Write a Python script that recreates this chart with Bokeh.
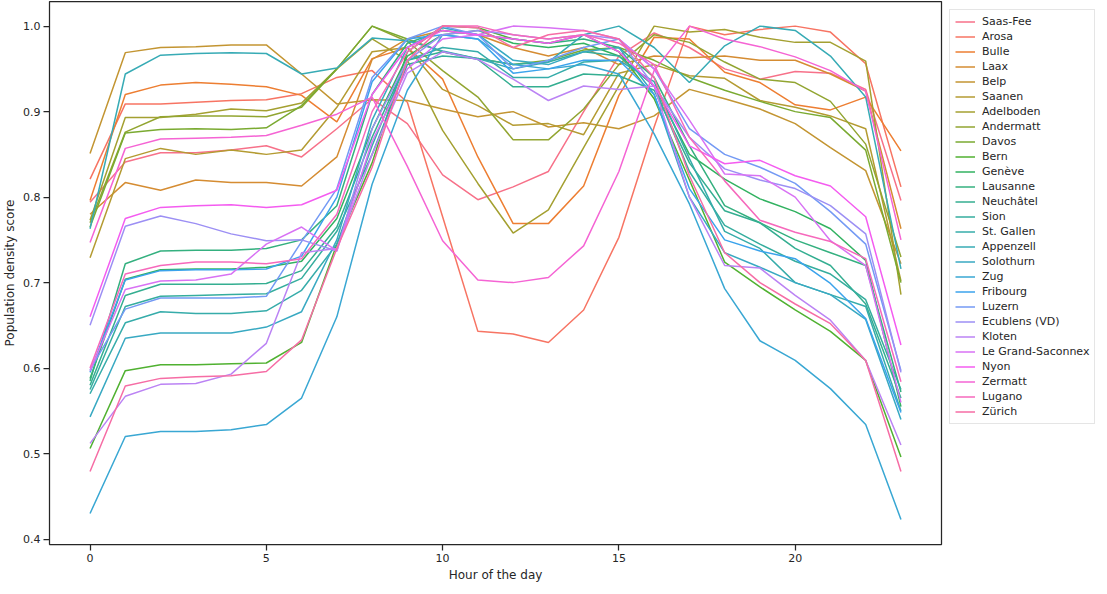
import math
from bokeh.plotting import figure
from bokeh.models import Range1d, FixedTicker, Legend, LegendItem, ColumnDataSource, CustomJSTickFormatter
from bokeh.embed import file_html
from bokeh.resources import INLINE

hours = list(range(24))

city_names = ["Saas-Fee", "Arosa", "Bulle", "Laax", "Belp", "Saanen", "Adelboden",
              "Andermatt", "Davos", "Bern", "Genève", "Lausanne", "Neuchâtel", "Sion",
              "St. Gallen", "Appenzell", "Solothurn", "Zug", "Fribourg", "Luzern",
              "Ecublens (VD)", "Kloten", "Le Grand-Saconnex", "Nyon", "Zermatt",
              "Lugano", "Zürich"]

saas_fee = [0.794, 0.841, 0.852, 0.852, 0.855, 0.860, 0.847, 0.880, 0.915, 0.886, 0.826, 0.797,
            0.812, 0.830, 0.900, 0.965, 0.992, 0.975, 0.950, 0.938, 0.947, 0.945, 0.926, 0.796]
arosa = [0.821, 0.909, 0.909, 0.911, 0.913, 0.914, 0.921, 0.940, 0.948, 0.911, 0.777, 0.643,
         0.640, 0.630, 0.668, 0.753, 0.882, 1.000, 0.990, 0.996, 1.000, 0.993, 0.956, 0.812]
bulle = [0.796, 0.920, 0.931, 0.934, 0.932, 0.929, 0.919, 0.888, 0.962, 0.975, 0.938, 0.847,
         0.769, 0.769, 0.813, 0.919, 0.987, 0.985, 0.946, 0.934, 0.908, 0.902, 0.917, 0.854]
laax = [0.780, 0.817, 0.808, 0.820, 0.817, 0.817, 0.813, 0.847, 0.961, 0.985, 0.995, 0.990,
        0.975, 0.965, 0.975, 0.955, 0.965, 0.963, 0.965, 0.960, 0.960, 0.944, 0.924, 0.763]
belp = [0.851, 0.969, 0.975, 0.976, 0.978, 0.978, 0.944, 0.909, 0.914, 0.913, 0.903, 0.894,
        0.900, 0.882, 0.887, 0.880, 0.895, 0.926, 0.915, 0.903, 0.886, 0.858, 0.831, 0.722]
saanen = [0.729, 0.845, 0.857, 0.850, 0.855, 0.850, 0.855, 0.905, 0.970, 0.975, 0.926, 0.907,
          0.884, 0.886, 0.873, 0.945, 0.955, 0.942, 0.939, 0.913, 0.905, 0.895, 0.880, 0.702]
adelboden = [0.773, 0.893, 0.893, 0.897, 0.903, 0.901, 0.910, 0.950, 0.985, 0.960, 0.878, 0.816,
             0.758, 0.785, 0.858, 0.930, 1.000, 0.993, 0.996, 0.987, 0.981, 0.981, 0.959, 0.686]
andermatt = [0.770, 0.876, 0.894, 0.895, 0.895, 0.894, 0.905, 0.950, 1.000, 0.982, 0.948, 0.917,
             0.867, 0.867, 0.903, 0.955, 0.990, 0.981, 0.958, 0.938, 0.934, 0.912, 0.862, 0.730]
davos = [0.765, 0.875, 0.879, 0.880, 0.879, 0.881, 0.907, 0.950, 1.000, 0.985, 0.970, 0.962,
         0.955, 0.960, 0.972, 0.975, 0.960, 0.940, 0.925, 0.912, 0.900, 0.893, 0.855, 0.700]
bern = [0.506, 0.597, 0.604, 0.604, 0.605, 0.606, 0.630, 0.745, 0.840, 0.970, 1.000, 0.998,
        0.985, 0.980, 0.990, 0.970, 0.915, 0.820, 0.724, 0.695, 0.668, 0.643, 0.609, 0.496]
geneve = [0.588, 0.704, 0.715, 0.716, 0.716, 0.718, 0.725, 0.775, 0.880, 0.965, 0.990, 0.995,
          0.980, 0.975, 0.980, 0.965, 0.930, 0.850, 0.821, 0.798, 0.783, 0.763, 0.726, 0.555]
lausanne = [0.585, 0.722, 0.737, 0.738, 0.738, 0.740, 0.750, 0.790, 0.920, 0.980, 0.995, 0.990,
            0.985, 0.980, 0.985, 0.975, 0.940, 0.860, 0.790, 0.770, 0.750, 0.735, 0.720, 0.572]
neuchatel = [0.580, 0.685, 0.698, 0.698, 0.698, 0.699, 0.714, 0.765, 0.870, 0.960, 0.970, 0.961,
             0.929, 0.929, 0.944, 0.942, 0.925, 0.840, 0.784, 0.770, 0.740, 0.720, 0.675, 0.565]
sion = [0.575, 0.672, 0.684, 0.685, 0.686, 0.687, 0.705, 0.760, 0.850, 0.955, 0.965, 0.962,
        0.955, 0.958, 0.970, 0.965, 0.930, 0.830, 0.767, 0.745, 0.725, 0.710, 0.680, 0.575]
st_gallen = [0.570, 0.653, 0.666, 0.664, 0.664, 0.667, 0.691, 0.745, 0.860, 0.960, 0.975, 0.970,
             0.940, 0.940, 0.958, 0.960, 0.935, 0.845, 0.760, 0.740, 0.700, 0.686, 0.672, 0.550]
appenzell = [0.763, 0.944, 0.966, 0.968, 0.969, 0.968, 0.944, 0.951, 0.986, 0.983, 0.971, 0.962,
             0.950, 0.958, 0.990, 1.000, 0.975, 0.934, 0.977, 1.000, 0.995, 0.965, 0.917, 0.716]
solothurn = [0.543, 0.635, 0.641, 0.641, 0.641, 0.648, 0.666, 0.750, 0.890, 0.975, 0.998, 0.990,
             0.960, 0.955, 0.970, 0.975, 0.920, 0.800, 0.735, 0.718, 0.700, 0.686, 0.657, 0.540]
zug = [0.430, 0.520, 0.526, 0.526, 0.528, 0.534, 0.565, 0.660, 0.815, 0.925, 0.990, 0.985,
       0.955, 0.950, 0.955, 0.944, 0.874, 0.792, 0.693, 0.632, 0.609, 0.576, 0.534, 0.423]
fribourg = [0.595, 0.703, 0.714, 0.715, 0.715, 0.716, 0.731, 0.800, 0.935, 0.985, 0.990, 0.985,
            0.945, 0.950, 0.960, 0.960, 0.920, 0.810, 0.750, 0.737, 0.728, 0.699, 0.658, 0.548]
luzern = [0.598, 0.669, 0.682, 0.682, 0.682, 0.684, 0.748, 0.810, 0.940, 0.985, 1.000, 0.990,
          0.950, 0.960, 0.975, 0.985, 0.950, 0.880, 0.850, 0.835, 0.816, 0.783, 0.745, 0.597]
ecublens = [0.650, 0.766, 0.778, 0.769, 0.757, 0.749, 0.750, 0.737, 0.880, 0.960, 0.990, 0.995,
            0.990, 0.985, 0.990, 0.985, 0.930, 0.870, 0.833, 0.820, 0.810, 0.790, 0.757, 0.595]
kloten = [0.512, 0.567, 0.581, 0.582, 0.593, 0.629, 0.735, 0.740, 0.850, 0.945, 0.970, 0.961,
          0.938, 0.913, 0.930, 0.926, 0.930, 0.800, 0.720, 0.717, 0.685, 0.656, 0.609, 0.510]
grand_saconnex = [0.597, 0.692, 0.702, 0.703, 0.710, 0.745, 0.765, 0.737, 0.865, 0.950, 0.985, 0.990,
                  1.000, 0.998, 0.995, 0.985, 0.950, 0.890, 0.827, 0.825, 0.800, 0.749, 0.720, 0.560]
nyon = [0.660, 0.775, 0.788, 0.790, 0.791, 0.788, 0.791, 0.808, 0.920, 0.975, 0.995, 0.990,
        0.985, 0.980, 0.990, 0.970, 0.930, 0.860, 0.839, 0.843, 0.825, 0.813, 0.777, 0.627]
zermatt = [0.747, 0.857, 0.868, 0.869, 0.870, 0.872, 0.884, 0.897, 0.917, 0.836, 0.749, 0.703,
           0.700, 0.706, 0.743, 0.830, 0.948, 1.000, 0.985, 0.976, 0.964, 0.948, 0.924, 0.750]
lugano = [0.600, 0.710, 0.720, 0.724, 0.724, 0.722, 0.728, 0.780, 0.900, 0.970, 1.000, 1.000,
          0.990, 0.985, 0.990, 0.980, 0.955, 0.870, 0.819, 0.773, 0.759, 0.748, 0.728, 0.584]
zurich = [0.479, 0.579, 0.588, 0.590, 0.591, 0.596, 0.633, 0.740, 0.835, 0.960, 1.000, 0.998,
          0.975, 0.990, 0.995, 0.985, 0.940, 0.825, 0.735, 0.700, 0.675, 0.652, 0.609, 0.479]

series_values = [saas_fee, arosa, bulle, laax, belp, saanen, adelboden, andermatt, davos,
                 bern, geneve, lausanne, neuchatel, sion, st_gallen, appenzell, solothurn,
                 zug, fribourg, luzern, ecublens, kloten, grand_saconnex, nyon, zermatt,
                 lugano, zurich]

x_ticks = [0, 5, 10, 15, 20]
y_ticks = [0.4, 0.5, 0.6, 0.7, 0.8, 0.9, 1.0]

# ---- seaborn-style HUSL palette ----
_M = [[3.2406, -1.5372, -0.4986],
      [-0.9689, 1.8758, 0.0415],
      [0.0557, -0.2040, 1.0570]]
_refU, _refV = 0.19784, 0.46834


def _max_chroma(L, H):
    hrad = math.radians(H)
    sinH, cosH = math.sin(hrad), math.cos(hrad)
    sub1 = (L + 16) ** 3 / 1560896.0
    sub2 = sub1 if sub1 > 0.008856 else L / 903.3
    result = float("inf")
    for m1, m2, m3 in _M:
        top = (0.99915 * m1 + 1.05122 * m2 + 1.14460 * m3) * sub2
        rbottom = 0.86330 * m3 - 0.17266 * m2
        lbottom = 0.12949 * m3 - 0.38848 * m1
        bottom = (rbottom * sinH + lbottom * cosH) * sub2
        for t in (0.0, 1.0):
            C = L * (top - 1.05122 * t) / (bottom + 0.17266 * sinH * t)
            if 0.0 < C < result:
                result = C
    return result


def _husl_to_hex(H, S, L):
    C = _max_chroma(L, H) / 100.0 * S
    hrad = math.radians(H)
    U, V = math.cos(hrad) * C, math.sin(hrad) * C
    t = (L + 16) / 116.0
    varY = t ** 3 if t ** 3 > 0.008856 else (116 * t - 16) / 903.3
    varU = U / (13.0 * L) + _refU
    varV = V / (13.0 * L) + _refV
    Y = varY
    X = 0.0 - (9.0 * Y * varU) / ((varU - 4.0) * varV - varU * varV)
    Z = (9.0 * Y - (15.0 * varV * Y) - (varV * X)) / (3.0 * varV)
    out = []
    for row in _M:
        c = row[0] * X + row[1] * Y + row[2] * Z
        c = 12.92 * c if c <= 0.0031308 else 1.055 * c ** (1 / 2.4) - 0.055
        c = min(max(c, 0.0), 1.0)
        out.append(int(round(c * 255)))
    return "#%02x%02x%02x" % tuple(out)


n = len(city_names)
colors = []
for i in range(n):
    h = ((i / n) + 0.01) % 1 * 359
    colors.append(_husl_to_hex(h, 0.9 * 99, 0.65 * 99))

FONT = "DejaVu Sans"
INK = "#262626"

p = figure(frame_width=892, frame_height=543, output_backend="svg", toolbar_location=None,
           x_range=Range1d(-1.15, 24.15), y_range=Range1d(0.3937, 1.0288),
           min_border_left=10, min_border_top=1, min_border_bottom=6, min_border_right=2,
           background_fill_color="white", border_fill_color="white")

p.grid.visible = False
p.outline_line_color = INK
p.outline_line_width = 1.25

items = []
for name, vals, col in zip(city_names, series_values, colors):
    src = ColumnDataSource(dict(x=hours, y=vals))
    r = p.line("x", "y", source=src, line_color=col, line_width=1.5)
    items.append(LegendItem(label=name, renderers=[r]))

for ax in (p.xaxis[0], p.yaxis[0]):
    ax.axis_line_color = None
    ax.major_tick_line_color = INK
    ax.major_tick_line_width = 1.25
    ax.major_tick_out = 6
    ax.major_tick_in = 0
    ax.minor_tick_line_color = None
    ax.major_label_text_font = FONT
    ax.major_label_text_font_size = "11px"
    ax.major_label_text_color = INK
    ax.major_label_standoff = 3
    ax.axis_label_text_font = FONT
    ax.axis_label_text_font_size = "12px"
    ax.axis_label_text_font_style = "normal"
    ax.axis_label_text_color = INK
    ax.axis_label_standoff = 3

p.xaxis.ticker = FixedTicker(ticks=x_ticks)
p.yaxis.ticker = FixedTicker(ticks=y_ticks)
p.yaxis.formatter = CustomJSTickFormatter(code="return tick.toFixed(1);")
p.xaxis.axis_label = "Hour of the day"
p.yaxis.axis_label = "Population density score"

legend = Legend(items=items, location="top_left")
legend.label_text_font = FONT
legend.label_text_font_size = "11px"
legend.label_text_color = INK
legend.label_height = 13
legend.glyph_height = 13
legend.glyph_width = 20
legend.label_standoff = 7
legend.spacing = 2
legend.padding = 5
legend.margin = 8
legend.border_line_color = "#cccccc"
legend.border_line_width = 1
legend.background_fill_alpha = 0.8
p.add_layout(legend, "right")

open("out.html", "w").write(file_html(p, INLINE))
